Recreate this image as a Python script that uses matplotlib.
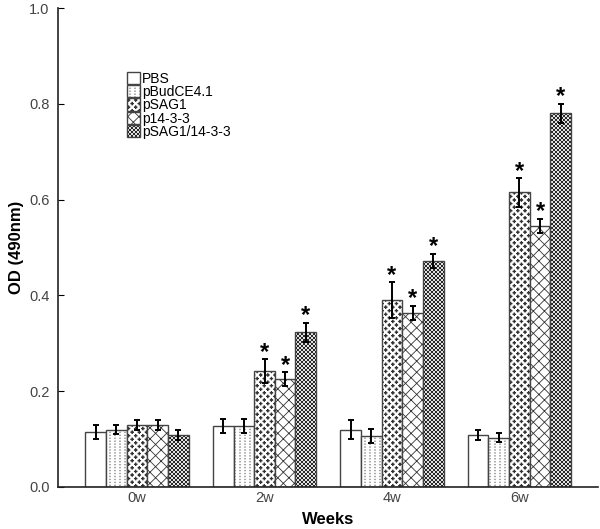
import matplotlib
matplotlib.use("Agg")
import matplotlib.pyplot as plt
import matplotlib.hatch as mhatch
from matplotlib.path import Path
from matplotlib.legend_handler import HandlerTuple
import numpy as np

weeks = ["0w", "2w", "4w", "6w"]
groups = ["PBS", "pBudCE4.1", "pSAG1", "p14-3-3", "pSAG1/14-3-3"]
means = {
    "PBS":          [0.115, 0.127, 0.120, 0.108],
    "pBudCE4.1":    [0.120, 0.127, 0.107, 0.103],
    "pSAG1":        [0.130, 0.242, 0.390, 0.615],
    "p14-3-3":      [0.130, 0.225, 0.363, 0.545],
    "pSAG1/14-3-3": [0.108, 0.323, 0.472, 0.780],
}
errors = {
    "PBS":          [0.015, 0.015, 0.020, 0.010],
    "pBudCE4.1":    [0.010, 0.015, 0.015, 0.010],
    "pSAG1":        [0.010, 0.025, 0.037, 0.030],
    "p14-3-3":      [0.010, 0.015, 0.015, 0.015],
    "pSAG1/14-3-3": [0.010, 0.020, 0.015, 0.020],
}
significant = {
    "PBS":          [False, False, False, False],
    "pBudCE4.1":    [False, False, False, False],
    "pSAG1":        [False, True, True, True],
    "p14-3-3":      [False, True, True, True],
    "pSAG1/14-3-3": [False, True, True, True],
}
hatches = ["", ".", "*", "xxx", "O"]
hatch_colors = ["#444444", "#9a9a9a", "#333333", "#333333", "#222222"]


# ---- custom lattice hatch patterns (dots in columns, pluses, checkerboard)
class _Lattice(mhatch.HatchPatternBase):
    char = None
    ncols = 10
    nrows = 20
    shape = None

    def __init__(self, hatch, density):
        if hatch is not None and hatch.count(self.char) > 0:
            pts = []
            for r in range(-1, self.nrows + 2):
                y = r / self.nrows
                off = (0.5 / self.ncols) if r % 2 else 0.0
                for c in range(-1, self.ncols + 2):
                    pts.append((c / self.ncols + off, y))
            self.centers = np.array(pts)
            self.num_vertices = len(pts) * (len(self.shape) + 1)
        else:
            self.num_vertices = 0

    def set_vertices_and_codes(self, vertices, codes):
        k = len(self.shape) + 1
        shp = np.asarray(self.shape, dtype=float)
        for i, (cx, cy) in enumerate(self.centers):
            vertices[i * k:(i + 1) * k - 1] = shp + [cx, cy]
            vertices[(i + 1) * k - 1] = shp[0] + [cx, cy]
            codes[i * k] = Path.MOVETO
            codes[i * k + 1:(i + 1) * k - 1] = Path.LINETO
            codes[(i + 1) * k - 1] = Path.CLOSEPOLY


def _square(h):
    return [(-h, -h), (h, -h), (h, h), (-h, h)]


def _plus(a, t):
    return [(-t, -a), (t, -a), (t, -t), (a, -t), (a, t), (t, t),
            (t, a), (-t, a), (-t, t), (-a, t), (-a, -t), (-t, -t)]


class DotColumns(_Lattice):
    char = '.'
    ncols = 20
    nrows = 34
    shape = _square(0.0028)

    def __init__(self, hatch, density):
        if hatch is not None and hatch.count(self.char) > 0:
            pts = []
            for r in range(-1, self.nrows + 2):
                for c in range(-1, self.ncols + 2):
                    pts.append((c / self.ncols, r / self.nrows))
            self.centers = np.array(pts)
            self.num_vertices = len(pts) * (len(self.shape) + 1)
        else:
            self.num_vertices = 0


class PlusLattice(_Lattice):
    char = '*'
    ncols = 14
    nrows = 28
    shape = _plus(0.0135, 0.0025)


class Checker(_Lattice):
    char = 'O'
    ncols = 25
    nrows = 50
    shape = _square(0.0065)


mhatch._hatch_types[:] = [mhatch.HorizontalHatch, mhatch.VerticalHatch,
                          mhatch.NorthEastHatch, mhatch.SouthEastHatch,
                          DotColumns, PlusLattice, Checker]

plt.rcParams['font.family'] = ['Liberation Sans', 'DejaVu Sans']
plt.rcParams['hatch.linewidth'] = 0.6

fig = plt.figure(figsize=(6.0, 5.29), dpi=100)
ax = fig.add_axes([58/600, 1-487/529, 540/600, 479/529])

x = np.arange(len(weeks))
w = 0.162
handles = []
for i, g in enumerate(groups):
    pos = x + (i - 2) * w
    hb = ax.bar(pos, means[g], width=w, color='white', edgecolor=hatch_colors[i],
                linewidth=0, hatch=hatches[i])
    ob = ax.bar(pos, means[g], width=w, fill=False, edgecolor='#444444',
                linewidth=1.0)
    handles.append((hb[0], ob[0]))
    ax.errorbar(pos, means[g], yerr=errors[g], fmt='none', ecolor='black',
                elinewidth=1.4, capsize=2.5, capthick=1.4)
    for j in range(len(weeks)):
        if significant[g][j]:
            ax.annotate("*", xy=(pos[j], means[g][j] + errors[g][j]),
                        xytext=(0, 5), textcoords='offset points',
                        ha='center', va='center', fontsize=17,
                        fontweight='bold', color='black')

ax.set_xlim(-0.62, 3.616)
ax.set_ylim(0, 1.0)
ax.set_yticks([0.0, 0.2, 0.4, 0.6, 0.8, 1.0])
ax.set_yticklabels(["0.0", "0.2", "0.4", "0.6", "0.8", "1.0"])
ax.set_xticks(x)
ax.set_xticklabels(weeks)
ax.tick_params(axis='y', direction='in', length=4, labelsize=10.5,
               labelcolor='#444444', pad=6)
ax.tick_params(axis='x', length=0, labelsize=10.5, labelcolor='#444444', pad=3)
for s in ['top', 'right']:
    ax.spines[s].set_visible(False)
for s in ['left', 'bottom']:
    ax.spines[s].set_linewidth(1.2)
    ax.spines[s].set_color('#222222')

ax.set_ylabel("OD (490nm)", fontsize=12, fontweight='bold', labelpad=4)
ax.set_xlabel("Weeks", fontsize=12, fontweight='bold', labelpad=5)

leg = ax.legend(handles, groups, handler_map={tuple: HandlerTuple(ndivide=1, pad=0)},
                loc='upper left', bbox_to_anchor=(0.127, 0.867), frameon=False,
                fontsize=10, handlelength=1.0, handleheight=1.0,
                handletextpad=0.1, labelspacing=-0.05, borderaxespad=0,
                borderpad=0)

fig.savefig("out.png", dpi=100)
